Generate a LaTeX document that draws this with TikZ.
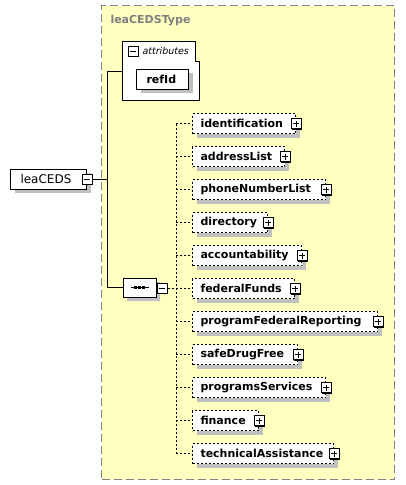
\documentclass[tikz,border=0pt]{standalone}
\usepackage{fontspec}
\setmainfont{DejaVu Sans}
\usetikzlibrary{shadows,shapes.misc}
\definecolor{ylw}{RGB}{255,255,192}
\definecolor{bordgray}{RGB}{128,128,128}
\definecolor{shgray}{RGB}{192,192,192}
\begin{document}
\begin{tikzpicture}[x=1pt,y=-1pt,line width=1pt,
  shd/.style={drop shadow={shadow xshift=4pt,shadow yshift=-4pt,opacity=1,fill=shgray}},
  smallshd/.style={drop shadow={shadow xshift=1pt,shadow yshift=-1pt,opacity=1,fill=black}},
  elem/.style={draw,dash pattern=on 2pt off 2pt,fill=white,shd,anchor=west,minimum height=20pt,
    inner xsep=0pt,inner ysep=0pt,align=left,font=\fontsize{11}{13}\bfseries\selectfont},
  solidbox/.style={draw,fill=white,shd,anchor=west,minimum height=20pt,
    inner xsep=0pt,inner ysep=0pt,align=left},
  plusbox/.style={draw,fill=white,smallshd,minimum size=10pt,inner sep=0pt,
    path picture={\draw[line width=1pt] ([xshift=2pt]path picture bounding box.west) -- ([xshift=-2pt]path picture bounding box.east);
      \draw[line width=1pt] ([yshift=-2pt]path picture bounding box.north) -- ([yshift=2pt]path picture bounding box.south);}},
  minusbox/.style={draw,fill=white,smallshd,minimum size=10pt,inner sep=0pt,
    path picture={\draw[line width=1pt] ([xshift=2pt]path picture bounding box.west) -- ([xshift=-2pt]path picture bounding box.east);}},
  dconn/.style={dash pattern=on 2pt off 2pt},
  typebox/.style={draw=bordgray,fill=ylw,dash pattern=on 8pt off 4pt,anchor=north west,inner sep=0pt}
]
\useasboundingbox (0,0) rectangle (405,485);
% complex type box
\node[typebox,minimum width=293pt,minimum height=474pt] (type) at (101,5) {};
\node[anchor=west,inner sep=0pt,text=bordgray,font=\fontsize{11}{13}\bfseries\selectfont] (typetitle) at (110,21) {leaCEDSType};
% attributes
\draw[fill=white] (122,41) -- (195,41) -- (195,61) -- (199,61) -- (199,100) -- (122,100) -- cycle;
\node[minusbox] (attrminus) at (133,51) {};
\node[anchor=west,inner sep=0pt,font=\fontsize{9.5}{11}\itshape\selectfont] (attrlabel) at (142,51) {attributes};
\node[solidbox,text width=52pt,font=\fontsize{11}{13}\bfseries\selectfont] (refId) at (136,79) {\hspace*{10pt}refId};
\coordinate (attrpt) at (122,71);
% root element
\node[solidbox,text width=76pt,font=\fontsize{12}{14}\selectfont] (leaCEDS) at (10,179) {\hspace*{10pt}leaCEDS};
\node[minusbox] (leaminus) at (leaCEDS.east) {};
\coordinate (trunk) at (107,179);
% sequence
\node[chamfered rectangle,chamfered rectangle xsep=5pt,chamfered rectangle ysep=5pt,draw,fill=white,shd,
  minimum width=33pt,minimum height=19pt,inner sep=0pt] (seq) at (139.5,287.5) {};
\draw (seq.center) ++(-9,0) -- ++(18,0);
\foreach \dx in {-4,0,4} \fill ([xshift=\dx pt]seq.center) ++(-1.5,-1.5) rectangle ++(3,3);
\node[minusbox] (seqminus) at (162,288) {};
\coordinate (bus) at (176,288);
% solid connectors
\draw (leaminus.east) -- (trunk);
\draw (attrpt) -- (attrpt -| trunk) -- (seq.west -| trunk) -- (seq.west);
\draw[dconn] (seqminus.east) -- (bus);
% children
\foreach \n/\y/\w in {identification/123.5/103,addressList/156.5/92,phoneNumberList/189.5/133,
  directory/222.5/75,accountability/255.5/109,federalFunds/288.5/102,
  programFederalReporting/321.5/185,safeDrugFree/354.5/105,programsServices/387.5/133,
  finance/420.5/66,technicalAssistance/453.5/141}{
  \node[elem,text width=\w pt] (\n) at (192,\y) {\hspace*{8pt}\n};
  \node[plusbox] (p\n) at (\n.east) {};
  \draw[dconn] (\n.west -| bus) -- (\n.west);
}
\draw[dconn] (identification.west -| bus) -- (technicalAssistance.west -| bus);
\end{tikzpicture}
\end{document}
